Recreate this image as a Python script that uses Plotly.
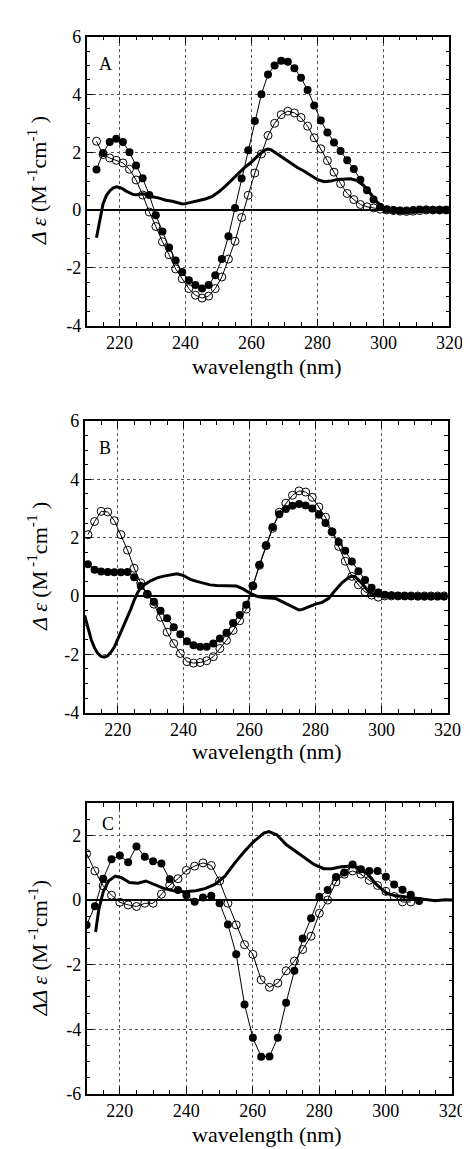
import plotly.graph_objects as go

# ---------------- Panel A ----------------
wl_A = list(range(213, 320, 2))
A_filled = [1.40, 1.97, 2.35, 2.47, 2.35, 2.00, 1.54, 1.10, 0.52, -0.18,
            -0.74, -1.30, -1.75, -2.15, -2.43, -2.60, -2.72, -2.60, -2.26, -1.70,
            -0.91, 0.07, 1.09, 2.07, 3.08, 4.01, 4.69, 5.00, 5.17, 5.13,
            4.91, 4.58, 4.15, 3.62, 3.10, 2.68, 2.34, 2.04, 1.72, 1.42,
            1.05, 0.68, 0.36, 0.11, 0.03, 0.00, -0.02, -0.02, 0.00, 0.02,
            0.02, 0.00, 0.00, 0.00]
A_open = [2.38, 1.92, 1.80, 1.72, 1.63, 1.41, 1.04, 0.52, -0.07, -0.57,
          -1.10, -1.55, -2.04, -2.38, -2.72, -2.95, -3.05, -2.98, -2.72, -2.32,
          -1.70, -1.08, -0.26, 0.51, 1.28, 1.94, 2.58, 3.00, 3.30, 3.42,
          3.36, 3.20, 2.90, 2.50, 2.12, 1.71, 1.31, 0.91, 0.57, 0.36,
          0.19, 0.11, 0.07, 0.03, 0.00, -0.02, -0.04, -0.05, -0.04, -0.02,
          0.00, 0.00, 0.00, 0.00]
A_line_x = [213, 214, 215, 216, 217, 218, 219, 220, 221, 222, 223, 224, 225, 226,
            227, 228, 229, 230, 232, 234, 236, 238, 239, 240, 242, 244, 246, 248,
            250, 252, 254, 256, 258, 260, 262, 264, 265, 266, 268, 270, 272, 274,
            276, 278, 280, 282, 284, 286, 288, 290, 292, 294, 296, 298, 300, 302,
            306, 310, 314, 320]
A_line_y = [-0.96, -0.30, 0.22, 0.50, 0.66, 0.76, 0.80, 0.78, 0.73, 0.65, 0.58, 0.54,
            0.53, 0.54, 0.56, 0.54, 0.50, 0.46, 0.41, 0.34, 0.30, 0.23, 0.21, 0.22,
            0.27, 0.31, 0.38, 0.46, 0.62, 0.82, 1.05, 1.28, 1.48, 1.66, 1.89, 2.07,
            2.11, 2.08, 1.92, 1.76, 1.60, 1.46, 1.34, 1.20, 1.05, 0.98, 1.00, 1.06,
            1.08, 1.08, 1.02, 0.85, 0.58, 0.28, 0.06, 0.01, 0.00, 0.00, 0.00, 0.00]

# ---------------- Panel B ----------------
wl_B = list(range(211, 320, 2))
B_open = [2.10, 2.55, 2.90, 2.88, 2.58, 2.10, 1.57, 0.95, 0.45, 0.06,
          -0.28, -0.73, -1.24, -1.63, -1.97, -2.25, -2.30, -2.28, -2.22, -2.08,
          -1.80, -1.52, -1.18, -0.85, -0.45, 0.35, 1.05, 1.72, 2.32, 2.87,
          3.18, 3.45, 3.60, 3.56, 3.38, 3.05, 2.70, 2.20, 1.70, 1.19,
          0.67, 0.38, 0.14, 0.03, -0.04, 0.00, 0.00, 0.00, 0.00, 0.00,
          0.00, 0.00, 0.00, 0.00, 0.00]
B_filled = [1.09, 0.90, 0.84, 0.82, 0.81, 0.81, 0.82, 0.64, 0.34, 0.06,
            -0.20, -0.51, -0.76, -1.07, -1.31, -1.55, -1.69, -1.74, -1.74, -1.63,
            -1.46, -1.26, -0.93, -0.65, -0.30, 0.34, 1.07, 1.74, 2.36, 2.80,
            2.98, 3.09, 3.15, 3.10, 3.00, 2.78, 2.50, 2.20, 1.85, 1.55,
            1.18, 0.85, 0.55, 0.28, 0.12, 0.04, 0.02, 0.01, 0.00, -0.01,
            -0.02, -0.02, -0.02, -0.02, -0.02]
B_line_x = [210, 211, 212, 213, 214, 215, 216, 217, 218, 219, 220, 221, 222, 223,
            224, 225, 226, 227, 228, 230, 232, 234, 236, 238, 240, 242, 244, 246,
            248, 250, 252, 254, 256, 258, 260, 262, 264, 266, 268, 270, 272, 274,
            275, 276, 278, 280, 282, 284, 286, 288, 290, 291, 292, 294, 296, 298,
            300, 305, 310, 320]
B_line_y = [-0.67, -1.10, -1.50, -1.78, -1.97, -2.07, -2.10, -2.05, -1.92, -1.75,
            -1.50, -1.25, -0.98, -0.73, -0.45, -0.15, 0.10, 0.28, 0.38, 0.52,
            0.62, 0.68, 0.73, 0.76, 0.70, 0.57, 0.50, 0.44, 0.38, 0.36,
            0.36, 0.36, 0.34, 0.24, 0.10, 0.00, -0.05, -0.07, -0.09, -0.20,
            -0.32, -0.44, -0.48, -0.46, -0.37, -0.28, -0.22, -0.08, 0.20, 0.45,
            0.63, 0.68, 0.66, 0.44, 0.16, 0.04, 0.00, 0.00, 0.00, 0.00]

# ---------------- Panel C ----------------
wl_C = [210 + 2.5 * i for i in range(41)]
C_filled = [-0.77, -0.19, 0.66, 1.26, 1.38, 1.17, 1.66, 1.34, 1.20, 1.13,
            0.64, 0.31, 0.15, -0.05, 0.08, 0.13, -0.10, -0.76, -1.68, -3.23,
            -4.26, -4.85, -4.84, -4.26, -3.18, -2.19, -1.19, -0.56, 0.10, 0.31,
            0.71, 0.85, 1.10, 0.95, 0.90, 0.90, 0.72, 0.48, 0.32, 0.16, -0.03]
C_open = [1.44, 0.90, 0.44, 0.15, -0.07, -0.15, -0.20, -0.10, -0.10, 0.18,
          0.46, 0.66, 0.92, 1.05, 1.15, 1.07, 0.59, -0.10, -0.77, -1.38,
          -1.68, -2.47, -2.70, -2.57, -2.19, -1.89, -1.53, -1.12, -0.41, 0.00,
          0.56, 0.80, 0.90, 0.80, 0.61, 0.45, 0.27, 0.11, -0.06, -0.06]
wl_C_open = wl_C[:40]
C_line_x = [212.7, 213.7, 215, 216.6, 218.6, 220.5, 222.9, 225.4, 227.8, 230.2,
            233.2, 236.1, 239.5, 242.9, 245.8, 248.7, 251.6, 254.6, 257.5, 260.4,
            263.3, 264.8, 267.2, 270.1, 273.1, 276, 278.4, 281.3, 283.7, 286.6,
            289.6, 292, 294.5, 297.4, 300.3, 303.2, 307.1, 311, 314.9, 317.8, 320]
C_line_y = [-0.99, -0.28, 0.25, 0.59, 0.74, 0.69, 0.54, 0.52, 0.59, 0.49,
            0.36, 0.29, 0.26, 0.29, 0.36, 0.49, 0.74, 1.15, 1.51, 1.82,
            2.07, 2.12, 2.02, 1.71, 1.48, 1.28, 1.10, 0.97, 0.97, 1.03,
            1.05, 1.00, 0.80, 0.46, 0.20, 0.13, 0.08, 0.05, -0.02, 0.01, 0.00]

x_tickvals = [220, 240, 260, 280, 300, 320]
x_ticktext = ["220", "240", "260", "280", "300", "320"]
y_tickvals_AB = [-4, -2, 0, 2, 4, 6]
y_ticktext_AB = ["-4", "-2", "0", "2", "4", "6"]
y_tickvals_C = [-6, -4, -2, 0, 2]
y_ticktext_C = ["-6", "-4", "-2", "0", "2"]
panel_labels = ["A", "B", "C"]
x_title = "wavelength (nm)"
y_title_AB = "<i>Δ ε</i> (M<sup> -1</sup>cm<sup>-1</sup> )"
y_title_C = "<i>ΔΔ ε</i> (M<sup> -1</sup>cm<sup>-1</sup>)"

FONT = "Liberation Serif, Times New Roman, serif"
W, H = 470, 1149

fig = go.Figure()


def add_panel(i, thick_x, thick_y, open_x, open_y, filled_x, filled_y):
    xa = "x" if i == 1 else f"x{i}"
    ya = "y" if i == 1 else f"y{i}"
    fig.add_trace(go.Scatter(x=thick_x, y=thick_y, mode="lines",
                             line=dict(color="black", width=3),
                             xaxis=xa, yaxis=ya, showlegend=False))
    fig.add_trace(go.Scatter(x=open_x, y=open_y, mode="lines+markers",
                             line=dict(color="black", width=1),
                             marker=dict(symbol="circle-open", size=8, color="black",
                                         line=dict(width=1, color="black")),
                             xaxis=xa, yaxis=ya, showlegend=False))
    fig.add_trace(go.Scatter(x=filled_x, y=filled_y, mode="lines+markers",
                             line=dict(color="black", width=1),
                             marker=dict(symbol="circle", size=8, color="black"),
                             xaxis=xa, yaxis=ya, showlegend=False))


add_panel(1, A_line_x, A_line_y, wl_A, A_open, wl_A, A_filled)
add_panel(2, B_line_x, B_line_y, wl_B, B_open, wl_B, B_filled)
add_panel(3, C_line_x, C_line_y, wl_C_open, C_open, wl_C, C_filled)

# pixel boxes (left, right, top, bottom)
boxes = [(81, 455, 19, 313), (79, 453, 410, 707), (81, 458, 799, 1095)]
yranges = [[-4, 6], [-4, 6], [-6, 3]]
ytv = [y_tickvals_AB, y_tickvals_AB, y_tickvals_C]
ytt = [y_ticktext_AB, y_ticktext_AB, y_ticktext_C]

axis_common = dict(showline=True, linecolor="black", linewidth=1.5, mirror="ticks",
                   ticks="inside", ticklen=7, tickwidth=1.2, tickcolor="black",
                   showgrid=True, gridcolor="#555", griddash="dot", gridwidth=1,
                   tickfont=dict(family=FONT, size=18, color="black"),
                   fixedrange=True)

layout = dict(width=W, height=H, margin=dict(l=0, r=0, t=0, b=0),
              paper_bgcolor="white", plot_bgcolor="white", showlegend=False,
              font=dict(family=FONT, color="black"))

for i, (l, r, t, b) in enumerate(boxes, start=1):
    xk = "xaxis" if i == 1 else f"xaxis{i}"
    yk = "yaxis" if i == 1 else f"yaxis{i}"
    xa = "x" if i == 1 else f"x{i}"
    ya = "y" if i == 1 else f"y{i}"
    layout[xk] = dict(axis_common, domain=[l / W, r / W], range=[210, 320],
                      anchor=ya, tickmode="array", tickvals=x_tickvals, ticktext=x_ticktext,
                      zeroline=False,
                      minor=dict(tickmode="linear", tick0=210, dtick=5, ticks="inside",
                                 ticklen=4, tickcolor="black", showgrid=False))
    layout[yk] = dict(axis_common, domain=[1 - b / H, 1 - t / H], range=yranges[i - 1],
                      anchor=xa, tickmode="array", tickvals=ytv[i - 1], ticktext=ytt[i - 1],
                      zeroline=True, zerolinecolor="black", zerolinewidth=1.5,
                      minor=dict(tickmode="linear", tick0=0, dtick=0.5, ticks="inside",
                                 ticklen=4, tickcolor="black", showgrid=False))

fig.update_layout(**layout)

annotations = []
label_pos = [(100, 47), (100, 438), (103, 820)]
xtitle_y = [355, 747, 1136]
for i, (l, r, t, b) in enumerate(boxes):
    lx, ly = label_pos[i]
    annotations.append(dict(text=panel_labels[i], x=lx / W, y=1 - ly / H, xref="paper", yref="paper",
                            showarrow=False, xanchor="center", yanchor="middle",
                            font=dict(family=FONT, size=18, color="black")))
    annotations.append(dict(text=x_title, x=267 / W, y=1 - xtitle_y[i] / H, xref="paper", yref="paper",
                            showarrow=False, xanchor="center", yanchor="middle",
                            font=dict(family=FONT, size=22, color="black")))
    annotations.append(dict(text=y_title_AB if i < 2 else y_title_C, x=30 / W, y=1 - (t + b) / 2 / H,
                            xref="paper", yref="paper", textangle=-90,
                            showarrow=False, xanchor="center", yanchor="middle",
                            font=dict(family=FONT, size=22, color="black")))
fig.update_layout(annotations=annotations)

fig.write_html("out.html")
